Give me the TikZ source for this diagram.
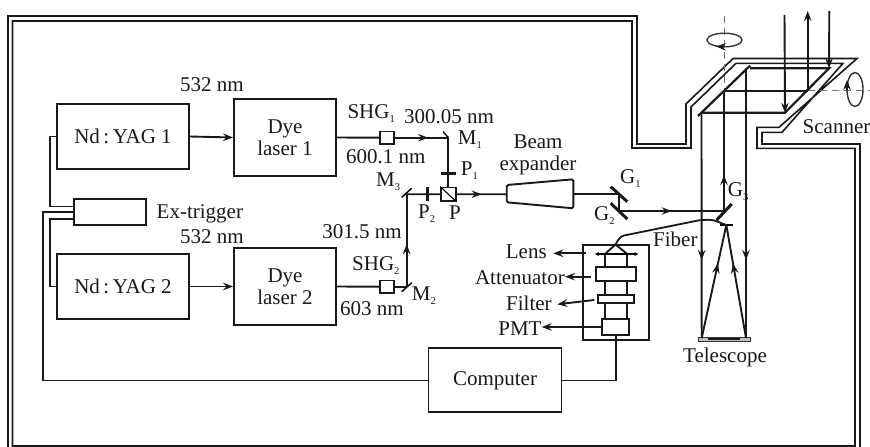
\documentclass[tikz,border=0pt]{standalone}
\usepackage{fontspec}
\setmainfont{Liberation Serif}
\usetikzlibrary{arrows.meta,decorations.markings,calc}
\newcommand\sbs[1]{\raisebox{-0.42ex}{\fontsize{10.5}{10.5}\selectfont #1}}
\tikzset{
  tip/.tip={Stealth[length=10pt,width=7.5pt,inset=3.5pt]},
  wire/.style={line width=1.6pt,black!90},
  heavy/.style={line width=2.2pt,black!90},
  plate/.style={line width=3pt,black!90},
  ray/.style={line width=1.9pt,black!90},
  arrowline/.style={line width=1.9pt,black!90,-tip},
  midarrow/.style={postaction={decorate},decoration={markings,mark=at position #1 with {\arrow{tip}}}},
  boxn/.style={draw,line width=1.9pt,black!90,fill=white,inner sep=0pt,align=center,text=black!90,font=\fontsize{21}{22.5}\selectfont},
  lab/.style={inner sep=0pt,text=black!90,font=\fontsize{21}{22.5}\selectfont},
  axisline/.style={line width=0.6pt,black!55,dash pattern=on 7pt off 5pt}
}
\begin{document}
\begin{tikzpicture}[x=1pt,y=-1pt]
\useasboundingbox (0,0) rectangle (870,447);
\fill[white] (0,0) rectangle (870,447);
% wall
\draw[wire,line join=miter] (8,447) -- (8,16) -- (637,16) -- (637,144) -- (686,144) -- (686,104) -- (733,58.5) -- (857,58.5) -- (779,127.3) -- (757,127.3) -- (757,148.3) -- (855,148.3) -- (855,446) -- (12.5,446) -- (12.5,21) -- (632,21) -- (632,148) -- (691,148) -- (691,107) -- (736,63.3) -- (843,63.3) -- (782,132.3) -- (762,132.3) -- (762,144) -- (860,144) -- (860,447);
% axes
\draw[axisline] (724,16) -- (724,90);
\draw[axisline] (808,90.7) -- (870,90.7);
\draw[line width=1.4pt,black!80] (724.5,40) ellipse [x radius=17.5pt,y radius=6.8pt];
\draw[line width=1.4pt,black!80] (855,89.5) ellipse [x radius=8pt,y radius=17pt];
\coordinate (rotA1) at (724,46.8); \coordinate (rotA2) at (716,46.4);
\coordinate (rotB1) at (847,90); \coordinate (rotB2) at (847,80);
\draw[arrowline] (rotA1) -- (rotA2);
\draw[arrowline] (rotB1) -- (rotB2);
% scanner mirrors
\coordinate (su1) at (750,65.7); \coordinate (su2) at (698,116);
\coordinate (sr1) at (829,68.3); \coordinate (sr2) at (785,112.7);
\coordinate (sa) at (750,68.3); \coordinate (sb) at (701.5,112.7);
\coordinate (sm1) at (724,90.7); \coordinate (sm2) at (807.7,90.7);
\draw[heavy] (su1) -- (su2);
\draw[heavy] (sa) -- (sr1) -- (sr2) -- (sb);
\draw[heavy] (sm1) -- (sm2);
% sky beams
\coordinate (sky1) at (784.5,15); \coordinate (sky2) at (807.7,11); \coordinate (sky3) at (829.3,11);
\draw[arrowline] (sky1) -- (sr2);
\draw[arrowline] (sm2) -- (sky2);
\draw[arrowline] (sky3) -- (sr1);
% boxes
\node[boxn,minimum width=132pt,minimum height=65.5pt] (yag1) at (123,136.5) {Nd\,:\,YAG 1};
\node[boxn,minimum width=132pt,minimum height=64.5pt] (yag2) at (123,286.5) {Nd\,:\,YAG 2};
\node[boxn,minimum width=71.5pt,minimum height=25.7pt] (ex) at (110,212.2) {};
\node[boxn,minimum width=102pt,minimum height=76.5pt] (dye1) at (285,137.5) {Dye\\[-1pt]laser 1};
\node[boxn,minimum width=102pt,minimum height=77pt] (dye2) at (285,286.5) {Dye\\[-1pt]laser 2};
\node[boxn,minimum width=133pt,minimum height=64pt] (comp) at (495,380.4) {Computer};
% trigger wires
\coordinate (exa) at (74.3,206.5); \coordinate (exb) at (74.3,219);
\draw[wire] (yag1.west) -- (50,136.5) |- (exa);
\draw[wire] (yag2.west) -- (50,286.5) |- (exb);
\draw[wire] (ex.west) -- (42.7,212.2) |- (comp.west);
% laser arrows
\draw[arrowline] (yag1.east) -- (dye1.west);
\draw[arrowline] (yag2.east) -- (dye2.west);
% optical path 1
\node[boxn,minimum width=14pt,minimum height=12.5pt] (shg1) at (387,137.7) {};
\node[boxn,minimum width=14pt,minimum height=12.5pt] (shg2) at (387,286.7) {};
\coordinate (m1) at (448.3,137.7); \coordinate (m2) at (406.7,286.7); \coordinate (m3) at (406.7,194.3);
\node[boxn,minimum width=14.5pt,minimum height=13.5pt] (pbox) at (448.3,194.2) {};
\draw[line width=1.1pt] (pbox.north west) -- (pbox.south east);
\draw[ray] (dye1.east) -- (shg1.west);
\draw[ray,midarrow=0.62] (shg1.east) -- (m1);
\draw[ray] (m1) -- (pbox.north);
\draw[ray] (dye2.east) -- (shg2.west);
\draw[ray] (shg2.east) -- (m2);
\draw[ray,midarrow=0.46] (m2) -- (m3);
\draw[ray] (m3) -- (pbox.west);
\draw[line width=1.4pt] (443,131.7) -- (448.5,137.7);
\draw[line width=1.4pt] (401.7,291.7) -- (411.7,282.7);
\draw[line width=1.4pt] (401.7,197.3) -- (411.7,188.3);
\draw[plate] (441,173.3) -- (455.7,173.3);
\draw[line width=3.2pt,black!90] (427.3,187) -- (427.3,200.5);
% beam expander
\draw[boxn,rounded corners=1.5pt] (506.7,185) coordinate (bea) -- (573.3,179.3) -- (573.3,208.3) -- (506.7,202.3) -- cycle;
\coordinate (bein) at (506.7,194.3); \coordinate (beout) at (573.3,194.3);
\draw[ray,midarrow=0.5] (pbox.east) -- (bein);
% galvo mirrors
\coordinate (g1) at (619.3,194.3); \coordinate (g2) at (619.3,211); \coordinate (g3) at (724,211);
\draw[ray] (beout) -- (g1) -- (g2);
\draw[ray,midarrow=0.5] (g2) -- (g3);
\draw[plate] (610.7,186.7) -- (627.3,201.7);
\draw[plate] (610.7,203.3) -- (627.3,219);
% telescope
\node[draw,line width=1.4pt,black!80,fill=black!25,minimum width=52pt,minimum height=4pt,inner sep=0pt] (tel) at (724.3,339.7) {};
\draw[line width=2.2pt,black!90] (708,339.2) -- (740,339.2);
\coordinate (telL) at (701.7,338); \coordinate (telR) at (746,338);
\coordinate (foc) at (726.3,225);
\draw[ray] (sb) -- (telL);
\draw[wire] (746,68.3) -- (telR);
\path (701.7,250) coordinate (ta1) (701.7,260) coordinate (ta2) (746,250) coordinate (tb1) (746,260) coordinate (tb2);
\draw[arrowline] (ta1) -- (ta2);
\draw[arrowline] (tb1) -- (tb2);
\draw[ray,midarrow=0.66] (telL) -- (foc);
\draw[ray,midarrow=0.66] (telR) -- (foc);
\draw[line width=1.7pt] (720,225) -- (733,225);
% return path and G3
\draw[ray] (g3) -- (724,175) coordinate (g3t);
\draw[arrowline] (724,190) -- (g3t);
\draw[ray] (g3t) -- (sm1);
\draw[plate] (716.7,220) -- (731.7,204);
% detector housing
\node[draw,line width=1.6pt,black!90,minimum width=66pt,minimum height=95pt,inner sep=0pt] (house) at (615.7,292.5) {};
\coordinate (lensL) at (605,254); \coordinate (lensR) at (627.3,254); \coordinate (fibtip) at (615.5,244.5);
\draw[ray] (lensL) -- (605,319) (lensR) -- (627.3,319);
\draw[ray] (lensL) -- (fibtip) -- (lensR);
\draw[line width=1.7pt,{Stealth[length=4pt,width=4pt]}-{Stealth[length=4pt,width=4pt]}] (595,254) -- (638.3,254);
\node[boxn,line width=2.1pt,minimum width=40pt,minimum height=14.3pt] (att) at (615.7,274.2) {};
\node[boxn,line width=2.1pt,minimum width=36pt,minimum height=7.7pt] (fil) at (616,298.9) {};
\node[boxn,line width=2.1pt,minimum width=27pt,minimum height=16pt] (pmt) at (615.8,327) {};
\draw[wire] (pmt.south) |- (comp.east);
% fiber
\draw[line width=1.8pt,black!90] (fibtip) .. controls (618,240) and (620,236.5) .. (624,235.5) -- (698,220.5) .. controls (705,219.5) and (712,219.5) .. (716,221) .. controls (720,222.5) and (723,224) .. (foc);
% labels
\node[lab,anchor=west] (l1) at (180,85) {532 nm};
\node[lab,anchor=west] (l2) at (180,237) {532 nm};
\node[lab,anchor=west] (l3) at (156.5,214) {Ex-trigger};
\node[lab,anchor=west] (l4) at (347.3,113.5) {SHG\sbs{1}};
\node[lab,anchor=west] (l5) at (404,117) {300.05 nm};
\node[lab,anchor=west] (l6) at (457.7,139.5) {M\sbs{1}};
\node[lab,anchor=west] (l7) at (346,157) {600.1 nm};
\node[lab,anchor=west] (l8) at (460.7,170.5) {P\sbs{1}};
\node[lab,anchor=west] (l9) at (376,182) {M\sbs{3}};
\node[lab,anchor=west] (l10) at (418,213.5) {P\sbs{2}};
\node[lab,anchor=west] (l11) at (449,213) {P};
\node[lab,anchor=east] (l12) at (402,232) {301.5 nm};
\node[lab,anchor=west] (l13) at (352,265.5) {SHG\sbs{2}};
\node[lab,anchor=west] (l14) at (411.7,295.5) {M\sbs{2}};
\node[lab,anchor=west] (l15) at (340,308.5) {603 nm};
\node[lab,align=center] (l16) at (538,155) {Beam\\[-1pt]expander};
\node[lab,anchor=west] (l17) at (620,178.5) {G\sbs{1}};
\node[lab,anchor=west] (l18) at (594,216) {G\sbs{2}};
\node[lab,anchor=west] (l19) at (727.7,192) {G\sbs{3}};
\node[lab,anchor=west] (l20) at (653,239.5) {Fiber};
\node[lab,anchor=west] (l21) at (802.5,127) {Scanner};
\node[lab] (l22) at (725,357.5) {Telescope};
\node[lab,anchor=west] (lens) at (505.7,252) {Lens};
\node[lab,anchor=east] (atl) at (565,278) {Attenuator};
\node[lab,anchor=west] (fll) at (506,303) {Filter};
\node[lab,anchor=east] (pml) at (541.7,329) {PMT};
\coordinate (a1) at (586,253.3); \coordinate (a2) at (553.3,253.3);
\coordinate (b1) at (590.7,276.7); \coordinate (c1) at (594.3,300); \coordinate (c2) at (557.3,304.3);
\draw[arrowline] (a1) -- (a2);
\draw[arrowline] (b1) -- (atl.east |- b1);
\draw[arrowline] (c1) -- (c2);
\draw[arrowline] (pmt.west) -- (pml.east |- pmt.west);
\end{tikzpicture}
\end{document}
